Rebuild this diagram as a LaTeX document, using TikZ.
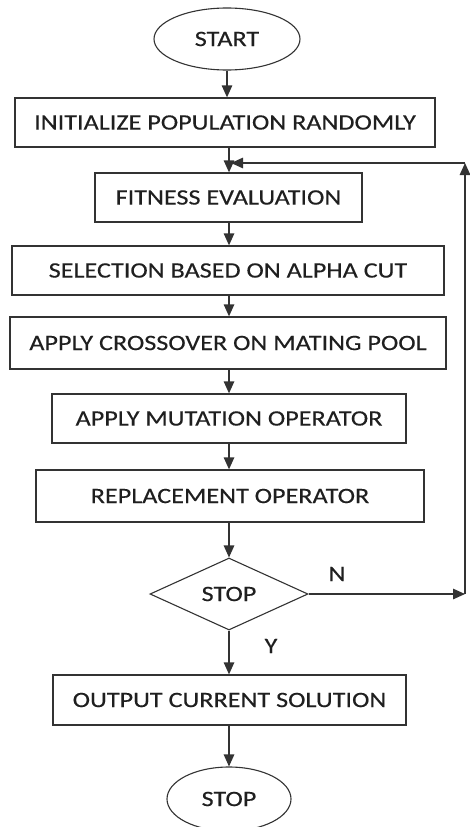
\documentclass[tikz,border=0pt]{standalone}
\usepackage{fontspec}
\setmainfont{Carlito}[FakeStretch=1.19,FakeBold=0.3]
\usetikzlibrary{shapes.geometric,arrows.meta}
\begin{document}
\begin{tikzpicture}[x=1pt,y=-1pt,
  every node/.style={font=\fontsize{22}{26}\selectfont, text=black!88},
  procbox/.style={draw=black!80, line width=1.3pt, rectangle, inner sep=0pt},
  term/.style={draw=black!80, line width=1.1pt, ellipse, inner sep=0pt},
  decis/.style={draw=black!80, line width=1.1pt, diamond, inner sep=0pt},
  flow/.style={draw=black!80, line width=1.3pt, -{Triangle[length=12pt,width=10.5pt]}},
  plain/.style={draw=black!80, line width=1.3pt}
]
\useasboundingbox (0,0) rectangle (469,827);
\fill[white] (0,0) rectangle (469,827);

\node[term, minimum width=146pt, minimum height=62pt] (start) at (227,39) {START};
\node[procbox, minimum width=420pt, minimum height=49pt] (init) at (225,122.5) {INITIALIZE POPULATION RANDOMLY\hspace{6pt}};
\node[procbox, minimum width=267pt, minimum height=49pt] (fit) at (228.5,197.5) {FITNESS EVALUATION};
\node[procbox, minimum width=432pt, minimum height=49pt] (sel) at (228,270.5) {SELECTION BASED ON ALPHA CUT\hspace{42pt}};
\node[procbox, minimum width=436pt, minimum height=52pt] (cross) at (228,343) {APPLY CROSSOVER ON MATING POOL};
\node[procbox, minimum width=354pt, minimum height=49pt] (mut) at (229,418.5) {APPLY MUTATION OPERATOR\hspace{7pt}};
\node[procbox, minimum width=388pt, minimum height=52pt] (rep) at (230,496) {REPLACEMENT OPERATOR\hspace{10pt}};
\node[decis, minimum width=158pt, minimum height=72pt] (dec) at (229,594) {STOP};
\node[procbox, minimum width=353pt, minimum height=50pt] (out) at (229.5,700) {OUTPUT CURRENT SOLUTION\hspace{7pt}};
\node[term, minimum width=124pt, minimum height=64pt] (stop) at (229,799) {STOP};

\node (nlab) at (337,574) {N};
\node (ylab) at (271,646) {Y};

\coordinate (cn) at (465,594);
\coordinate (ctop) at (465,163);
\coordinate (cjoin) at (231,163);

\draw[flow] (start.south) -- (start.south |- init.north);
\draw[flow] (init.south -| 229,0) -- (229,0 |- fit.north);
\draw[flow] (fit.south -| 229,0) -- (229,0 |- sel.north);
\draw[flow] (sel.south -| 229,0) -- (229,0 |- cross.north);
\draw[flow] (cross.south -| 229,0) -- (229,0 |- mut.north);
\draw[flow] (mut.south -| 229,0) -- (229,0 |- rep.north);
\draw[flow] (rep.south -| 229,0) -- (dec.north);
\draw[flow] (dec.south) -- (dec.south |- out.north);
\draw[flow] (out.south -| 229,0) -- (stop.north);
\draw[flow] (dec.east) -- (cn);
\draw[flow] (cn) -- (ctop);
\draw[flow] (ctop) -- (cjoin);
\end{tikzpicture}
\end{document}
